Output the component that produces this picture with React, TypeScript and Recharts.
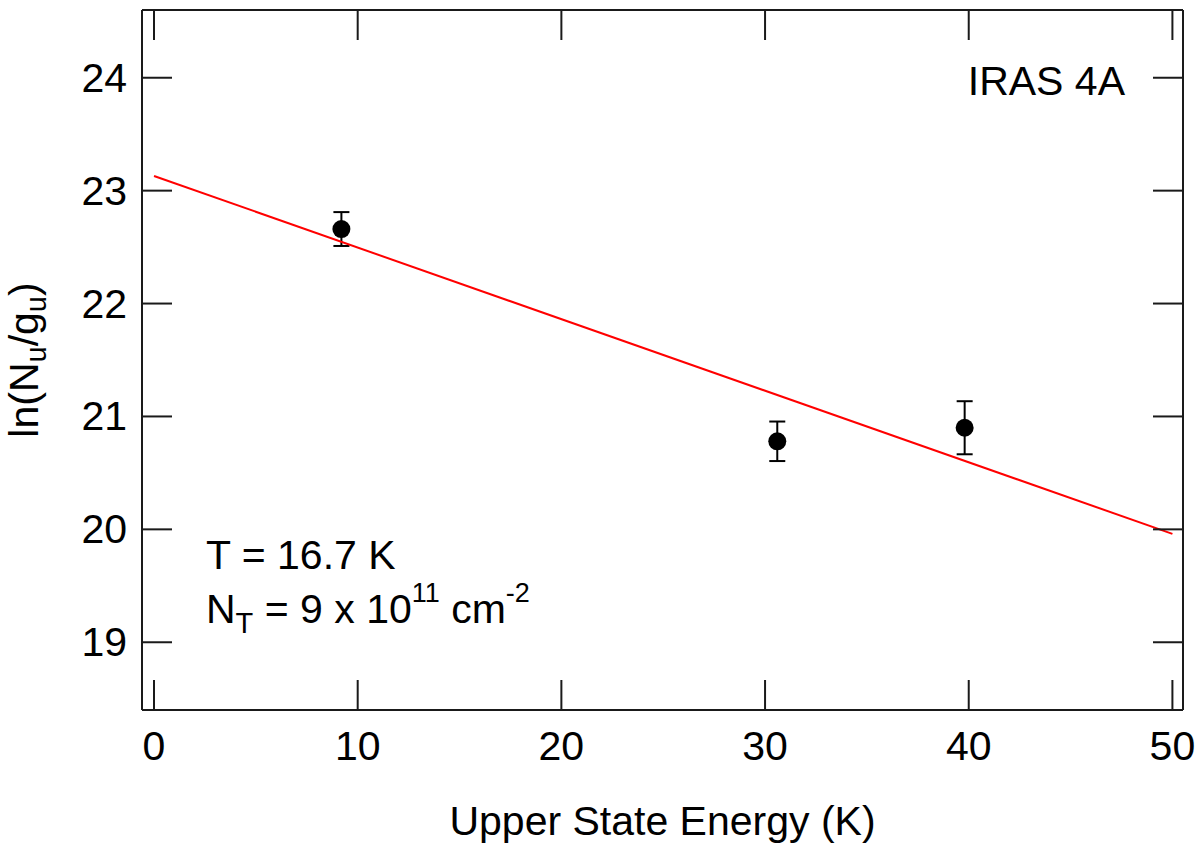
import React from 'react';
import { ScatterChart, Scatter, XAxis, YAxis, ErrorBar, Customized } from 'recharts';

// rotational diagram values
const energies = [9.2, 30.6, 39.8];
const lnValues = [22.66, 20.78, 20.9];
const lnErrors = [0.15, 0.175, 0.235];

// least squares fit line end points
const fitEnergies = [0, 50];
const fitValues = [23.13, 19.96];

const xTicks = [0, 10, 20, 30, 40, 50];
const yTicks = [19, 20, 21, 22, 23, 24];

const points = energies.map((e, i) => ({ x: e, y: lnValues[i], err: lnErrors[i] }));
const fit = fitEnergies.map((e, i) => ({ x: e, y: fitValues[i] }));

const FONT = '"Liberation Sans", Arial, Helvetica, sans-serif';
const INK = '#1a1a1a';
const TICK = 30;
const FS = 41;

const BottomTick = ({ x, y, payload }: any) => (
  <g>
    <line x1={x} y1={y} x2={x} y2={y - TICK} stroke={INK} strokeWidth={2} />
    <text x={x} y={y + 50} textAnchor="middle" fontSize={FS} fontFamily={FONT} fill="#000">
      {payload.value}
    </text>
  </g>
);

const TopTick = ({ x, y }: any) => (
  <line x1={x} y1={y} x2={x} y2={y + TICK} stroke={INK} strokeWidth={2} />
);

const LeftTick = ({ x, y, payload }: any) => (
  <g>
    <line x1={x} y1={y} x2={x + TICK} y2={y} stroke={INK} strokeWidth={2} />
    <text x={x - 15} y={y + 14} textAnchor="end" fontSize={FS} fontFamily={FONT} fill="#000">
      {payload.value}
    </text>
  </g>
);

const RightTick = ({ x, y }: any) => (
  <line x1={x} y1={y} x2={x - TICK} y2={y} stroke={INK} strokeWidth={2} />
);

const XTitle = ({ viewBox }: any) => (
  <text
    x={viewBox.x + viewBox.width / 2}
    y={viewBox.y + 125}
    textAnchor="middle"
    fontSize={FS}
    fontFamily={FONT}
    fill="#000"
  >
    Upper State Energy (K)
  </text>
);

const YTitle = ({ viewBox }: any) => {
  const cx = viewBox.x + 38;
  const cy = viewBox.y + viewBox.height / 2;
  return (
    <text
      x={cx}
      y={cy}
      transform={`rotate(-90 ${cx} ${cy})`}
      textAnchor="middle"
      fontSize={FS}
      fontFamily={FONT}
      fill="#000"
    >
      ln(N<tspan fontSize={29} dy={8}>u</tspan>
      <tspan dy={-8}>/g</tspan>
      <tspan fontSize={29} dy={8}>u</tspan>
      <tspan dy={-8}>)</tspan>
    </text>
  );
};

const Notes = () => (
  <g fontFamily={FONT} fontSize={FS} fill="#000">
    <text x={1125} y={95} textAnchor="end">IRAS 4A</text>
    <text x={206} y={569}>T = 16.7 K</text>
    <text x={206} y={623}>
      N<tspan fontSize={29} dy={10}>T</tspan>
      <tspan dy={-10}> = 9 x 10</tspan>
      <tspan fontSize={27} dy={-21}>11</tspan>
      <tspan dy={21}> cm</tspan>
      <tspan fontSize={27} dy={-21}>-2</tspan>
    </text>
  </g>
);

const Dot = ({ cx, cy }: any) => <circle cx={cx} cy={cy} r={9} fill="#000" />;
const NoDot = () => <g />;

export default function App() {
  return (
    <div style={{ position: 'absolute', left: 0, top: 0, background: '#fff' }}>
      <ScatterChart
        width={1200}
        height={866}
        margin={{ top: 9, right: 16, bottom: 0, left: 0 }}
        style={{ fontFamily: FONT }}
      >
        <XAxis
          xAxisId={0}
          type="number"
          dataKey="x"
          domain={[-0.59, 50.52]}
          allowDataOverflow
          ticks={xTicks}
          interval={0}
          height={156}
          tickSize={0}
          tickMargin={0}
          tickLine={false}
          axisLine={{ stroke: INK, strokeWidth: 2 }}
          tick={BottomTick}
          label={{ content: XTitle }}
        />
        <XAxis
          xAxisId="top"
          orientation="top"
          type="number"
          dataKey="x"
          domain={[-0.59, 50.52]}
          allowDataOverflow
          ticks={xTicks}
          interval={0}
          height={1}
          tickSize={0}
          tickMargin={0}
          tickLine={false}
          axisLine={{ stroke: INK, strokeWidth: 2 }}
          tick={TopTick}
        />
        <YAxis
          yAxisId={0}
          type="number"
          dataKey="y"
          domain={[18.4, 24.6]}
          allowDataOverflow
          ticks={yTicks}
          interval={0}
          width={142}
          tickSize={0}
          tickMargin={0}
          tickLine={false}
          axisLine={{ stroke: INK, strokeWidth: 2 }}
          tick={LeftTick}
          label={{ content: YTitle }}
        />
        <YAxis
          yAxisId="right"
          orientation="right"
          type="number"
          dataKey="y"
          domain={[18.4, 24.6]}
          allowDataOverflow
          ticks={yTicks}
          interval={0}
          width={1}
          tickSize={0}
          tickMargin={0}
          tickLine={false}
          axisLine={{ stroke: INK, strokeWidth: 2 }}
          tick={RightTick}
        />
        <Scatter
          data={fit}
          line={{ stroke: '#ff0000', strokeWidth: 2 }}
          shape={NoDot}
          isAnimationActive={false}
        />
        <Scatter data={points} shape={Dot} fill="#000" isAnimationActive={false}>
          <ErrorBar dataKey="err" direction="y" width={8} stroke="#000" strokeWidth={2} isAnimationActive={false} />
        </Scatter>
        <Customized component={Notes} />
      </ScatterChart>
    </div>
  );
}
